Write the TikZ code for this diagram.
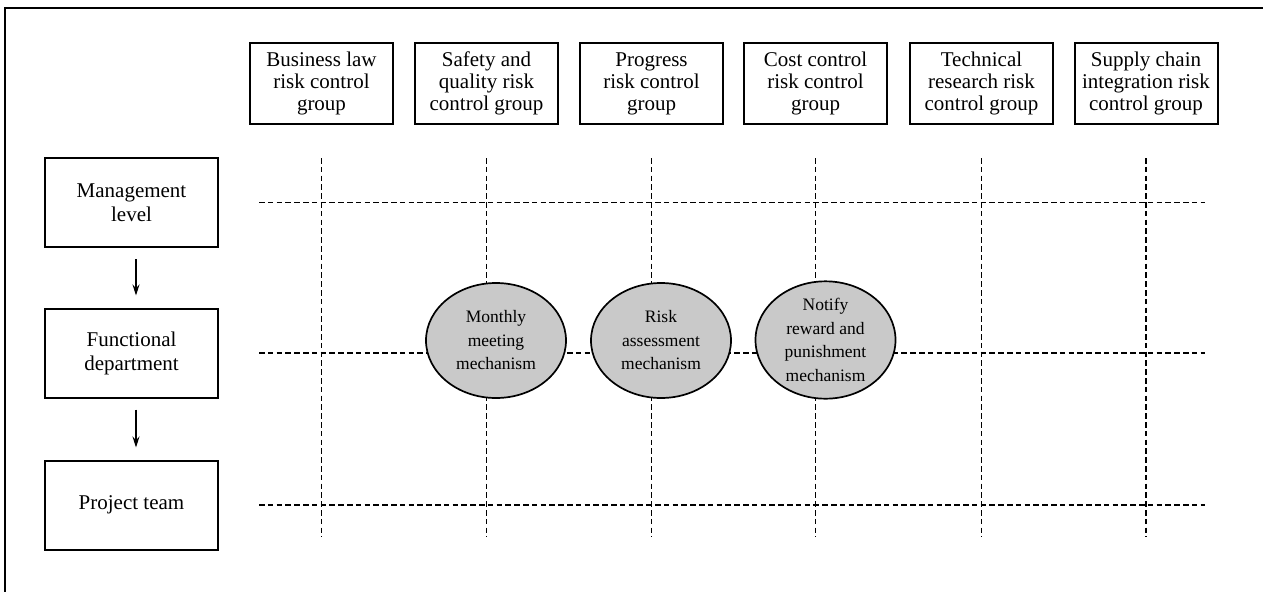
\documentclass[tikz,border=0pt]{standalone}
\usepackage{fontspec}
\setmainfont{Liberation Serif}
\usetikzlibrary{shapes.geometric,arrows.meta}
\begin{document}
\begin{tikzpicture}[x=1pt,y=-1pt,
  topbox/.style={draw,line width=2pt,minimum width=143pt,minimum height=81pt,inner sep=0pt,align=center,
    font=\fontsize{21}{22}\selectfont},
  levelbox/.style={draw,line width=2pt,minimum width=173pt,minimum height=89pt,inner sep=0pt,align=center,
    font=\fontsize{21}{24}\selectfont},
  mech/.style={ellipse,draw,line width=1.7pt,fill=black!21,minimum width=140pt,minimum height=115pt,inner sep=0pt,align=center,
    font=\fontsize{17.5}{23.5}\selectfont},
  grid/.style={line width=1.25pt,dash pattern=on 5.5pt off 3.3pt},
  arr/.style={line width=1.2pt,-{Stealth[length=11pt,width=7pt]}},
  frame/.style={line width=1.3pt}
]
\useasboundingbox (0,0) rectangle (1263,592);
\draw[frame] (1263,8) -- (5,8) -- (5,592);

% top groups
\node[topbox] (g1) at (321.5,83.5) {Business law\\risk control\\group};
\node[topbox] (g2) at (486.5,83.5) {Safety and\\quality risk\\control group};
\node[topbox] (g3) at (651.5,83.5) {Progress\\risk control\\group};
\node[topbox] (g4) at (815.5,83.5) {Cost control\\risk control\\group};
\node[topbox] (g5) at (981.5,83.5) {Technical\\research risk\\control group};
\node[topbox] (g6) at (1146,83.5) {Supply chain\\integration risk\\control group};

% levels
\node[levelbox] (m) at (131.5,202.5) {Management\\level};
\node[levelbox] (f) at (131.5,353) {Functional\\department};
\node[levelbox] (p) at (131.5,505) {Project team};

\draw[arr] ([xshift=4.5pt,yshift=-11pt]m.south) -- ([xshift=4.5pt,yshift=12pt]f.north);
\draw[arr] ([xshift=4.5pt,yshift=-11pt]f.south) -- ([xshift=4.5pt,yshift=12pt]p.north);

% grid
\foreach \r in {m,f,p}{
  \coordinate (\r end) at (1205,0 |- \r.east);
  \draw[grid] ([xshift=40pt]\r.east) -- (\r end);
}
\foreach \g in {g1,g2,g3,g4,g5,g6}{
  \coordinate (\g end) at (\g.south |- 0,537);
  \draw[grid] ([yshift=-33pt]\g.south) -- (\g end);
}

% mechanisms
\node[mech] (e1) at (496,340.5) {Monthly\\meeting\\mechanism};
\node[mech] (e2) at (661,340.5) {Risk\\assessment\\mechanism};
\node[mech] (e3) at (825.5,340) {Notify\\reward and\\punishment\\mechanism};
\end{tikzpicture}
\end{document}
